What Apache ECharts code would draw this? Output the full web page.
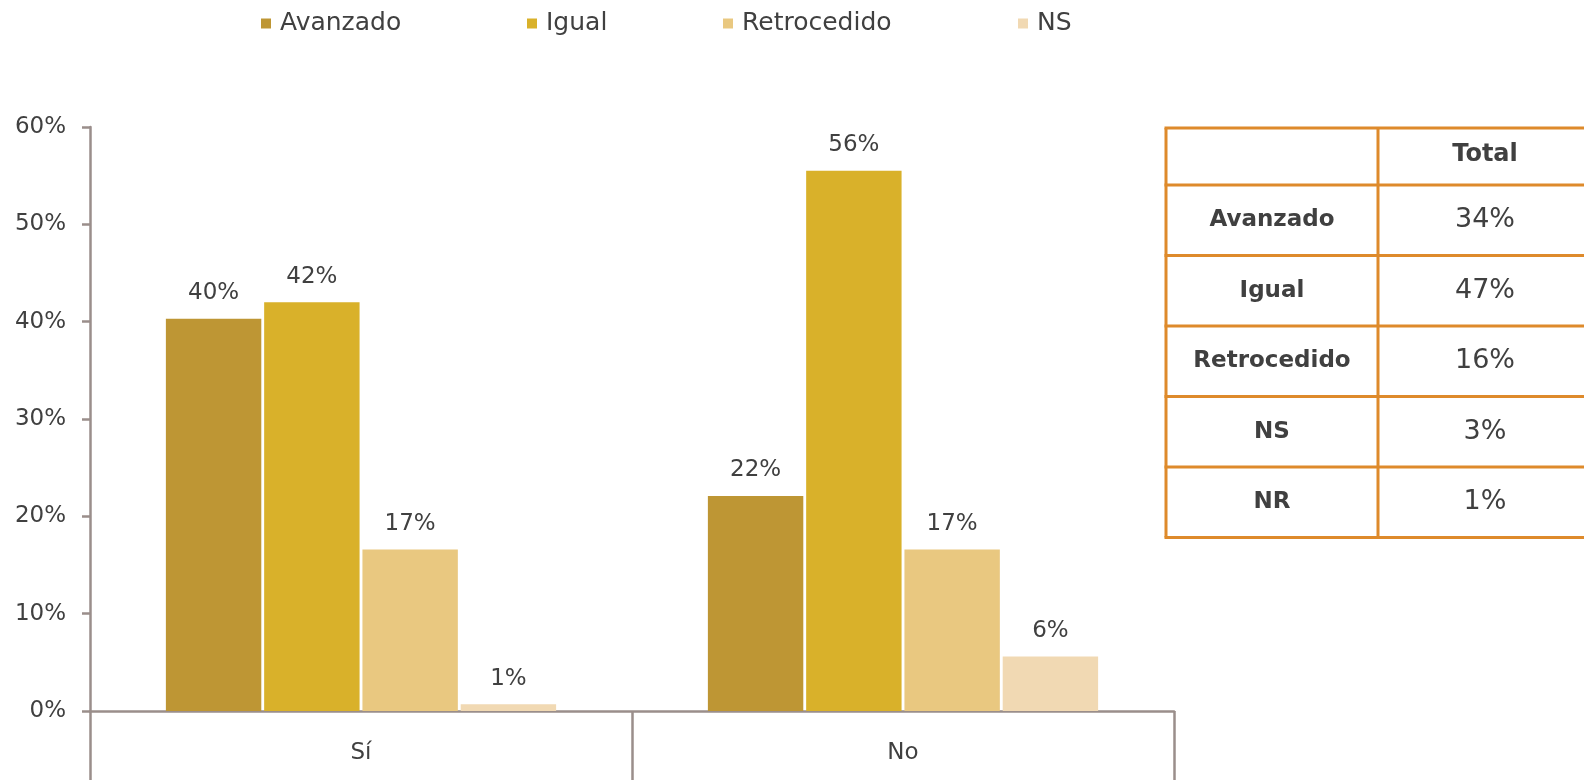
<!DOCTYPE html>
<html>
<head>
<meta charset="utf-8">
<script src="https://cdn.jsdelivr.net/npm/echarts@6/dist/echarts.min.js"></script>
<style>
html,body{margin:0;padding:0;background:#fff;}
#c{width:1584px;height:780px;}
</style>
</head>
<body>
<div id="c"></div>
<script>
const categories = ['Sí', 'No'];
const seriesNames = ['Avanzado', 'Igual', 'Retrocedido', 'NS'];
const avanzado = [40.3, 22.1];
const igual = [42.0, 55.5];
const retrocedido = [16.6, 16.6];
const ns = [0.7, 5.6];
const yTicks = [0, 10, 20, 30, 40, 50, 60];
const tableHeader = 'Total';
const tableLabels = ['Avanzado', 'Igual', 'Retrocedido', 'NS', 'NR'];
const tableValues = ['34%', '47%', '16%', '3%', '1%'];

const colors = ['#BE9634', '#D9B12A', '#E9C880', '#F1D9B3'];
const textColor = '#404040';
const axisColor = '#9A8E8B';
const font = 'DejaVu Sans';
const seriesData = [avanzado, igual, retrocedido, ns];

const chart = echarts.init(document.getElementById('c'), null, {renderer: 'canvas'});

const legendLefts = [256, 522, 718, 1013];
const legends = seriesNames.map((n, i) => ({
  data: [n],
  left: legendLefts[i],
  top: 6,
  icon: 'rect',
  itemWidth: 10,
  itemHeight: 10,
  textStyle: {fontFamily: font, fontSize: 25, color: textColor, padding: [0, 0, 0, 4]}
}));

// table graphic
const tLeft = 1166, tMid = 1378, tRight = 1592, tTop = 128;
const headH = 57, rowH = 70.5;
const orange = '#DE8A2B';
const g = [];
const nRows = tableLabels.length;
const tBottom = tTop + headH + rowH * nRows;
const ys = [tTop, tTop + headH];
for (let i = 1; i <= nRows; i++) ys.push(tTop + headH + rowH * i);
ys.forEach(y => g.push({type: 'line', shape: {x1: tLeft - 1.5, y1: y, x2: tRight, y2: y}, style: {stroke: orange, lineWidth: 3}}));
[tLeft, tMid, tRight].forEach(x => g.push({type: 'line', shape: {x1: x, y1: tTop, x2: x, y2: tBottom}, style: {stroke: orange, lineWidth: 3}}));
g.push({type: 'text', x: (tMid + tRight) / 2, y: tTop + headH / 2 - 2, style: {text: tableHeader, font: 'bold 24px "DejaVu Sans"', fill: textColor, align: 'center', verticalAlign: 'middle'}});
tableLabels.forEach((lab, i) => {
  const cy = tTop + headH + rowH * i + rowH / 2;
  g.push({type: 'text', x: (tLeft + tMid) / 2, y: cy, style: {text: lab, font: 'bold 23px "DejaVu Sans"', fill: textColor, align: 'center', verticalAlign: 'middle'}});
  g.push({type: 'text', x: (tMid + tRight) / 2, y: cy, style: {text: tableValues[i], font: '27px "DejaVu Sans"', fill: textColor, align: 'center', verticalAlign: 'middle'}});
});

const option = {
  animation: false,
  backgroundColor: '#ffffff',
  color: colors,
  legend: legends,
  grid: {left: 90, right: 410, top: 127, bottom: 69, containLabel: false},
  xAxis: {
    type: 'category',
    data: categories,
    axisLine: {lineStyle: {color: axisColor, width: 2.5}},
    axisTick: {show: true, length: 72, lineStyle: {color: axisColor, width: 2.5}},
    axisLabel: {fontFamily: font, fontSize: 23, color: textColor, margin: 31}
  },
  yAxis: {
    type: 'value',
    min: yTicks[0],
    max: yTicks[yTicks.length - 1],
    interval: yTicks[1] - yTicks[0],
    splitLine: {show: false},
    axisLine: {show: true, lineStyle: {color: axisColor, width: 2.5}},
    axisTick: {show: true, length: 8, lineStyle: {color: axisColor, width: 2.5}},
    axisLabel: {fontFamily: font, fontSize: 23, color: textColor, margin: 24, formatter: '{value}%'}
  },
  series: seriesNames.map((n, i) => ({
    name: n,
    type: 'bar',
    data: seriesData[i],
    barGap: '3%',
    barCategoryGap: '28%',
    itemStyle: {color: colors[i]},
    label: {
      show: true,
      position: 'top',
      distance: 14,
      fontFamily: font,
      fontSize: 23,
      color: textColor,
      formatter: p => Math.round(p.value) + '%'
    }
  })),
  graphic: g
};
chart.setOption(option);
</script>
</body>
</html>
